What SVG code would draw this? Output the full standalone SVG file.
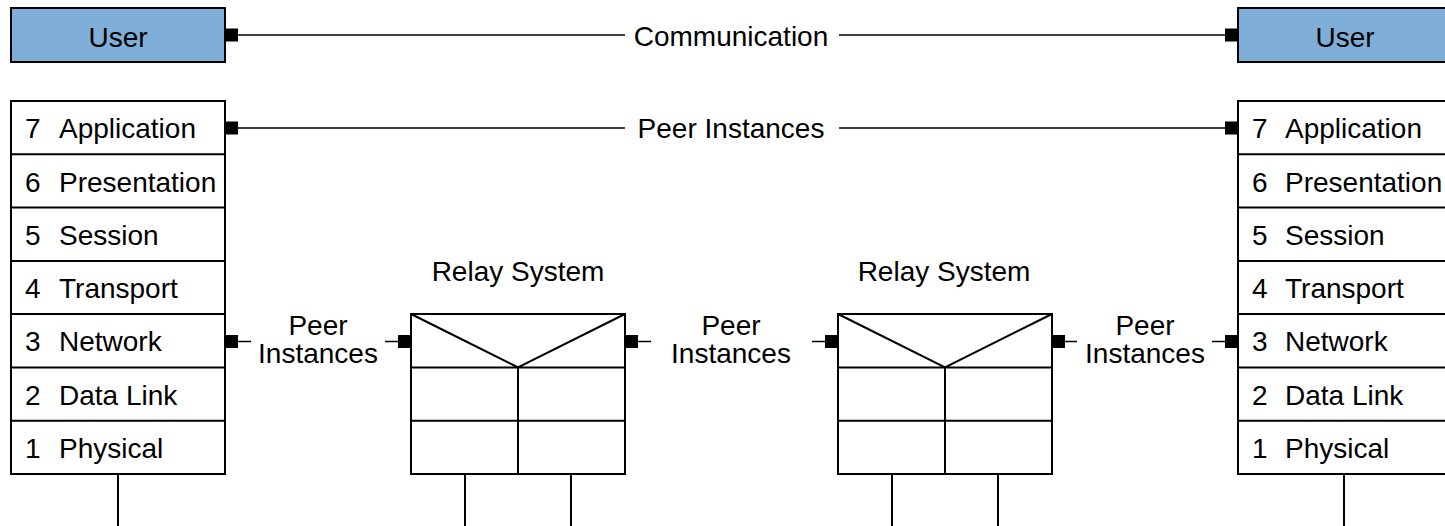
<svg xmlns="http://www.w3.org/2000/svg" width="1445" height="526" viewBox="0 0 1445 526">
<style>
text{font-family:"Liberation Sans",Arial,sans-serif;font-size:28px;fill:#000}
.c{text-anchor:middle}
.box{fill:#fff;stroke:#000;stroke-width:2}
.user{fill:#7fafd9;stroke:#000;stroke-width:2}
.ln{stroke:#000;stroke-width:2;fill:none}
.cn{stroke:#000;stroke-width:1.5;fill:none}
.sq{fill:#000}
</style>
<rect width="1445" height="526" fill="#fff"/>
<g id="user-left">
<rect class="user" x="11" y="8" width="214" height="54"/>
<text class="c" x="118" y="47">User</text>
</g>
<g id="user-right">
<rect class="user" x="1238" y="8" width="214" height="54"/>
<text class="c" x="1345" y="47">User</text>
</g>
<g id="stack-left">
<rect class="box" x="11" y="101" width="214" height="373"/>
<path class="ln" d="M11 154.3H225M11 207.6H225M11 260.9H225M11 314.1H225M11 367.4H225M11 420.7H225"/>
<text x="25" y="138">7</text><text x="59" y="138">Application</text>
<text x="25" y="191.5">6</text><text x="59" y="191.5">Presentation</text>
<text x="25" y="244.7">5</text><text x="59" y="244.7">Session</text>
<text x="25" y="298">4</text><text x="59" y="298">Transport</text>
<text x="25" y="351.3">3</text><text x="59" y="351.3">Network</text>
<text x="25" y="404.5">2</text><text x="59" y="404.5">Data Link</text>
<text x="25" y="457.9">1</text><text x="59" y="457.9">Physical</text>
</g>
<g id="stack-right">
<rect class="box" x="1238" y="101" width="214" height="373"/>
<path class="ln" d="M1238 154.3H1452M1238 207.6H1452M1238 260.9H1452M1238 314.1H1452M1238 367.4H1452M1238 420.7H1452"/>
<text x="1252" y="138">7</text><text x="1285" y="138">Application</text>
<text x="1252" y="191.5">6</text><text x="1285" y="191.5">Presentation</text>
<text x="1252" y="244.7">5</text><text x="1285" y="244.7">Session</text>
<text x="1252" y="298">4</text><text x="1285" y="298">Transport</text>
<text x="1252" y="351.3">3</text><text x="1285" y="351.3">Network</text>
<text x="1252" y="404.5">2</text><text x="1285" y="404.5">Data Link</text>
<text x="1252" y="457.9">1</text><text x="1285" y="457.9">Physical</text>
</g>
<g id="relay-1">
<text class="c" x="518" y="281">Relay System</text>
<rect class="box" x="411" y="314" width="214" height="160"/>
<path class="ln" d="M411 367.4H625M411 420.7H625M518 367.4V474M411 314L518 367.4L625 314"/>
</g>
<g id="relay-2">
<text class="c" x="944" y="281">Relay System</text>
<rect class="box" x="838" y="314" width="214" height="160"/>
<path class="ln" d="M838 367.4H1052M838 420.7H1052M945 367.4V474M838 314L945 367.4L1052 314"/>
</g>
<g id="connectors">
<path class="cn" d="M238 35H625M839 35H1225"/>
<rect class="sq" x="225" y="28.5" width="13" height="13"/>
<rect class="sq" x="1225" y="28.5" width="13" height="13"/>
<text class="c" x="731" y="45.5">Communication</text>
<path class="cn" d="M238 128H625M839 128H1225"/>
<rect class="sq" x="225" y="121.5" width="13" height="13"/>
<rect class="sq" x="1225" y="121.5" width="13" height="13"/>
<text class="c" x="731" y="138">Peer Instances</text>
<path class="cn" d="M238 341.5H251M385 341.5H398"/>
<rect class="sq" x="225" y="335" width="13" height="13"/>
<rect class="sq" x="398" y="335" width="13" height="13"/>
<text class="c" x="318" y="335">Peer</text>
<text class="c" x="318" y="363">Instances</text>
<path class="cn" d="M638 341.5H651M812 341.5H825"/>
<rect class="sq" x="625" y="335" width="13" height="13"/>
<rect class="sq" x="825" y="335" width="13" height="13"/>
<text class="c" x="731" y="335">Peer</text>
<text class="c" x="731" y="363">Instances</text>
<path class="cn" d="M1065 341.5H1077M1212 341.5H1225"/>
<rect class="sq" x="1052" y="335" width="13" height="13"/>
<rect class="sq" x="1225" y="335" width="13" height="13"/>
<text class="c" x="1145" y="335">Peer</text>
<text class="c" x="1145" y="363">Instances</text>
<path class="ln" d="M118 474V526M1344 474V526M465 474V526M571 474V526M892 474V526M998 474V526"/>
</g>
</svg>
